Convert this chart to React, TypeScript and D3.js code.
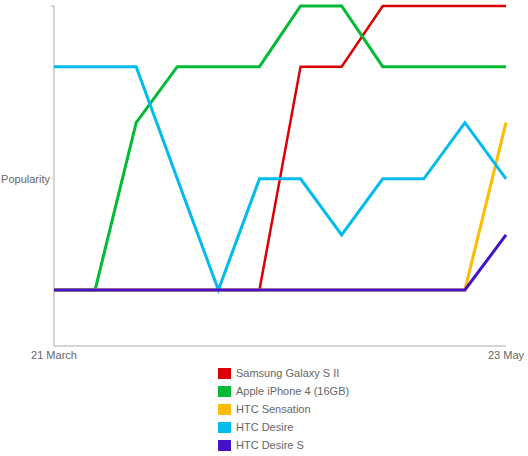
import * as d3 from "d3";
import React, { useEffect, useRef } from "react";

// popularity level per week, 21 March → 23 May
const weeks = [0, 1, 2, 3, 4, 5, 6, 7, 8, 9, 10, 11];
const xTickLabels = ["21 March", "23 May"];

const seriesNames = [
  "Samsung Galaxy S II",
  "Apple iPhone 4 (16GB)",
  "HTC Sensation",
  "HTC Desire",
  "HTC Desire S",
];
const seriesColors = ["#dd0000", "#00bb33", "#ffbb00", "#00bbee", "#4411cc"];

const samsung = [0.99, 0.99, 0.99, 0.99, 0.99, 0.99, 4.93, 4.93, 6, 6, 6, 6];
const iphone = [0.99, 0.99, 3.94, 4.93, 4.93, 4.93, 6, 6, 4.93, 4.93, 4.93, 4.93];
const sensation = [0.99, 0.99, 0.99, 0.99, 0.99, 0.99, 0.99, 0.99, 0.99, 0.99, 0.99, 3.94];
const desire = [4.93, 4.93, 4.93, 2.95, 0.99, 2.95, 2.95, 1.96, 2.95, 2.95, 3.94, 2.95];
const desireS = [0.99, 0.99, 0.99, 0.99, 0.99, 0.99, 0.99, 0.99, 0.99, 0.99, 0.99, 1.96];

const seriesValues = [samsung, iphone, sensation, desire, desireS];

const App: React.FC = () => {
  const svgRef = useRef<SVGSVGElement>(null);

  useEffect(() => {
    if (!svgRef.current) return;
    const svg = d3.select(svgRef.current);
    svg.selectAll("*").remove();

    const margin = { left: 54, right: 22, top: 6, bottom: 110 };
    const width = 528;
    const height = 456;

    const x = d3
      .scaleLinear()
      .domain([0, weeks.length - 1])
      .range([margin.left, width - margin.right]);
    const y = d3
      .scaleLinear()
      .domain([0, 6])
      .range([height - margin.bottom, margin.top]);

    const font = "Liberation Sans, Arial, Helvetica, sans-serif";

    // Axes
    const axisG = svg.append("g");
    axisG
      .append("line")
      .attr("x1", margin.left)
      .attr("x2", margin.left)
      .attr("y1", y(6))
      .attr("y2", y(0))
      .attr("stroke", "#aaa");
    axisG
      .append("line")
      .attr("x1", margin.left)
      .attr("x2", x(weeks.length - 1))
      .attr("y1", y(0))
      .attr("y2", y(0))
      .attr("stroke", "#aaa");
    axisG
      .append("line")
      .attr("x1", margin.left - 3)
      .attr("x2", margin.left)
      .attr("y1", y(6))
      .attr("y2", y(6))
      .attr("stroke", "#c9b36a");
    axisG
      .append("line")
      .attr("x1", margin.left - 3)
      .attr("x2", margin.left)
      .attr("y1", y(2.95))
      .attr("y2", y(2.95))
      .attr("stroke", "#ccc");

    axisG
      .append("text")
      .attr("x", margin.left - 4)
      .attr("y", y(2.95))
      .attr("dy", "0.35em")
      .attr("text-anchor", "end")
      .attr("fill", "#666")
      .style("font-family", font)
      .style("font-size", "11px")
      .text("Popularity");

    axisG
      .selectAll(".xlab")
      .data(xTickLabels)
      .join("text")
      .attr("class", "xlab")
      .attr("x", (_, i) => x(i === 0 ? 0 : weeks.length - 1))
      .attr("y", y(0) + 13)
      .attr("text-anchor", "middle")
      .attr("fill", "#666")
      .style("font-family", font)
      .style("font-size", "11px")
      .text((d) => d);

    // Lines
    const line = d3
      .line<number>()
      .x((_, i) => x(weeks[i]))
      .y((d) => y(d));

    svg
      .append("g")
      .selectAll("path")
      .data(seriesValues)
      .join("path")
      .attr("d", (d) => line(d))
      .attr("fill", "none")
      .attr("stroke", (_, i) => seriesColors[i])
      .attr("stroke-width", (_, i) => (i === 0 ? 2.5 : 3))
      .attr("stroke-linejoin", "miter");

    // Legend
    const legend = svg
      .append("g")
      .attr("transform", "translate(218,368)");
    const rows = legend
      .selectAll("g")
      .data(seriesNames)
      .join("g")
      .attr("transform", (_, i) => `translate(0,${i * 18})`);
    rows
      .append("rect")
      .attr("width", 13)
      .attr("height", 11)
      .attr("fill", (_, i) => seriesColors[i]);
    rows
      .append("text")
      .attr("x", 18)
      .attr("y", 5.5)
      .attr("dy", "0.35em")
      .attr("fill", "#666")
      .style("font-family", font)
      .style("font-size", "11px")
      .text((d) => d);
  }, []);

  return (
    <svg
      ref={svgRef}
      width={528}
      height={456}
      style={{ position: "absolute", left: 0, top: 0, background: "#fff" }}
    />
  );
};

export default App;
